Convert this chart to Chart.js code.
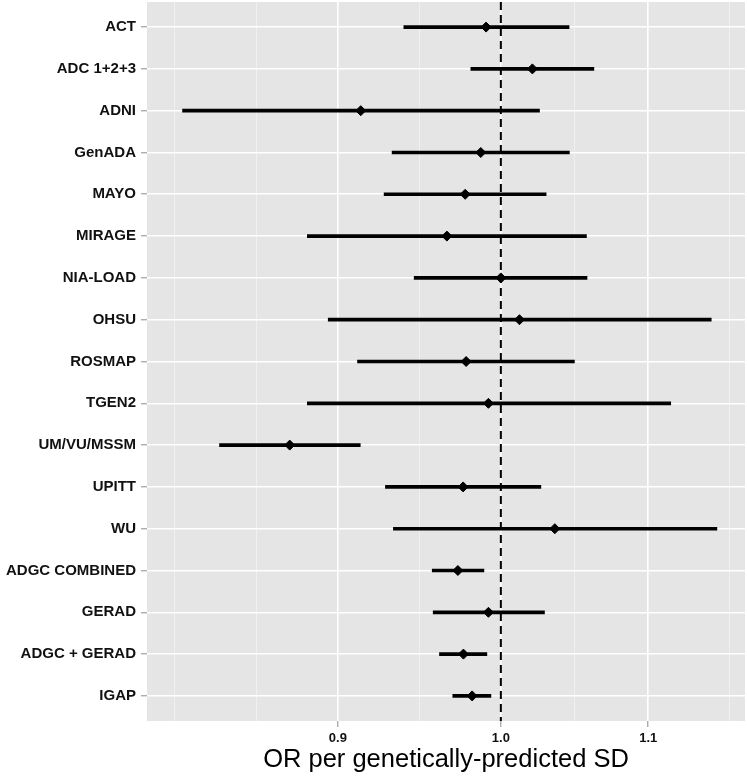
<!DOCTYPE html>
<html>
<head>
<meta charset="utf-8">
<script src="https://cdn.jsdelivr.net/npm/chart.js@4.4.1/dist/chart.umd.min.js"></script>
<style>
  body { margin: 0; background: #fff; }
</style>
</head>
<body>
<canvas id="forest" width="747" height="780"></canvas>
<script>
// studies, top to bottom
const studies = ['ACT', 'ADC 1+2+3', 'ADNI', 'GenADA', 'MAYO', 'MIRAGE', 'NIA-LOAD', 'OHSU',
  'ROSMAP', 'TGEN2', 'UM/VU/MSSM', 'UPITT', 'WU', 'ADGC COMBINED', 'GERAD', 'ADGC + GERAD', 'IGAP'];
const orEst  = [0.9905, 1.0206, 0.9134, 0.9871, 0.9772, 0.9657, 1.0000, 1.0121, 0.9778,
  0.9920, 0.8724, 0.9759, 1.0355, 0.9726, 0.9920, 0.9761, 0.9816];
const ciLow  = [0.9392, 0.9808, 0.8140, 0.9321, 0.9273, 0.8824, 0.9455, 0.8944, 0.9115,
  0.8824, 0.8337, 0.9281, 0.9329, 0.9566, 0.9572, 0.9611, 0.9694];
const ciHigh = [1.0451, 1.0620, 1.0253, 1.0453, 1.0297, 1.0569, 1.0573, 1.1457, 1.0487,
  1.1161, 0.9131, 1.0262, 1.1499, 0.9891, 1.0286, 0.9910, 0.9936];

// x axis breaks (log scale)
const majorTicks = [0.9, 1.0, 1.1];
const minorTicks = [0.81, 0.854, 0.9487, 1.0489, 1.1593];
const refLine = 1.0;

const isMajor = (v) => majorTicks.some(m => Math.abs(m - v) < 1e-6);
const tickIsMajor = (c) => !c.tick || isMajor(c.tick.value);

const panelBg = {
  id: 'panelBg',
  beforeDraw(chart) {
    const {ctx, chartArea: a} = chart;
    ctx.save();
    ctx.fillStyle = '#e5e5e5';
    ctx.fillRect(a.left, a.top, a.right - a.left, a.bottom - a.top);
    ctx.restore();
  }
};

new Chart(document.getElementById('forest'), {
  type: 'bar',
  data: {
    datasets: [
      {
        type: 'scatter',
        data: studies.map((s, i) => ({x: orEst[i], y: i})),
        pointStyle: 'rectRot',
        pointRadius: 5,
        backgroundColor: '#000',
        borderColor: '#000',
        borderWidth: 1,
        order: 0
      },
      {
        type: 'bar',
        indexAxis: 'y',
        data: studies.map((s, i) => ({x: [ciLow[i], ciHigh[i]], y: i})),
        backgroundColor: '#000',
        barThickness: 3,
        order: 1
      },
      {
        type: 'line',
        data: [{x: refLine, y: -0.6}, {x: refLine, y: studies.length - 0.4}],
        borderColor: '#000',
        borderWidth: 2,
        borderDash: [8, 5],
        pointRadius: 0,
        order: 2
      }
    ]
  },
  options: {
    responsive: false,
    animation: false,
    layout: { autoPadding: false, padding: { top: 2, right: 2, left: 0, bottom: 0 } },
    plugins: {
      legend: { display: false },
      tooltip: { enabled: false }
    },
    scales: {
      x: {
        type: 'logarithmic',
        min: 0.7955,
        max: 1.171,
        bounds: 'data',
        offset: false,
        afterBuildTicks: (axis) => {
          axis.ticks = minorTicks.concat(majorTicks).sort((a, b) => a - b).map(v => ({value: v}));
        },
        afterFit: (axis) => {
          axis.height = 59;
          axis.paddingLeft = 0;
          axis.paddingRight = 0;
        },
        border: { display: false },
        grid: {
          offset: false,
          color: (c) => tickIsMajor(c) ? '#ffffff' : '#f2f2f2',
          lineWidth: (c) => tickIsMajor(c) ? 1.6 : 0.8,
          tickColor: (c) => tickIsMajor(c) ? '#8c8c8c' : 'rgba(0,0,0,0)',
          tickLength: 6,
          tickWidth: 1
        },
        ticks: {
          autoSkip: false,
          maxRotation: 0,
          padding: 4,
          color: '#111',
          font: { family: 'Liberation Sans, Arial', size: 13, weight: 'bold' },
          callback: (v) => isMajor(v) ? Number(v).toFixed(1) : ''
        },
        title: {
          display: true,
          text: 'OR per genetically-predicted SD',
          color: '#000',
          font: { family: 'Liberation Sans, Arial', size: 25.5 },
          padding: { top: 0, bottom: 5 }
        }
      },
      y: {
        type: 'linear',
        reverse: true,
        offset: false,
        min: -0.6,
        max: studies.length - 0.4,
        afterBuildTicks: (axis) => {
          axis.ticks = studies.map((s, i) => ({value: i}));
        },
        afterFit: (axis) => {
          axis.width = 147;
          axis.paddingTop = 0;
          axis.paddingBottom = 0;
        },
        border: { display: false },
        grid: {
          offset: false,
          color: '#ffffff',
          lineWidth: 1.6,
          tickColor: '#8c8c8c',
          tickLength: 6,
          tickWidth: 1
        },
        ticks: {
          autoSkip: false,
          padding: 5,
          color: '#111',
          font: { family: 'Liberation Sans, Arial', size: 15, weight: 'bold' },
          callback: (v) => studies[v]
        }
      }
    }
  },
  plugins: [panelBg]
});
</script>
</body>
</html>
